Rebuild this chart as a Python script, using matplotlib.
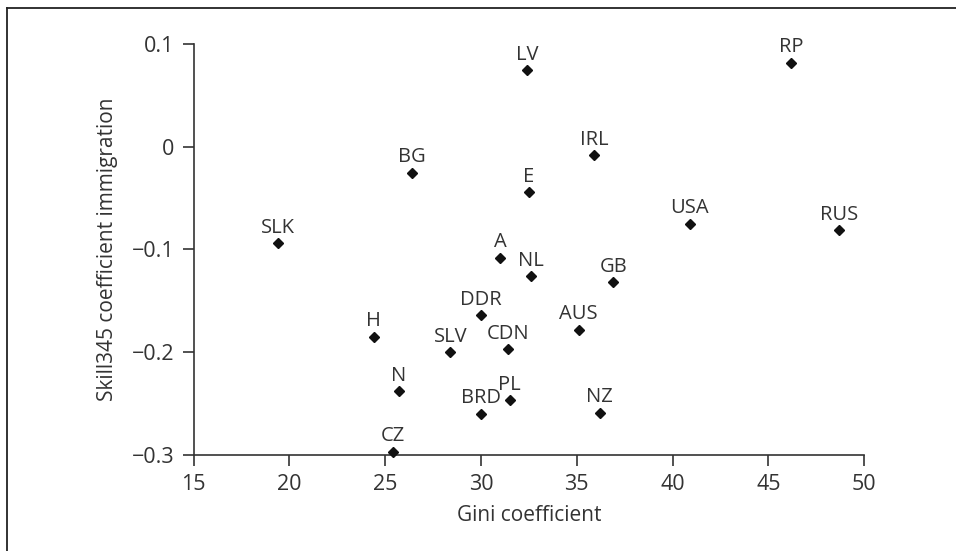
import matplotlib
matplotlib.use("Agg")
import matplotlib.pyplot as plt
from matplotlib.lines import Line2D

plt.rcParams['font.family'] = ['Open Sans', 'DejaVu Sans']

# Countries: Gini coefficient vs Skill345 coefficient of immigration
countries = ["LV", "RP", "BG", "IRL", "E", "SLK", "USA", "RUS", "A", "NL",
             "GB", "DDR", "AUS", "H", "SLV", "CDN", "N", "PL", "BRD", "NZ", "CZ"]
gini = [32.4, 46.2, 26.4, 35.9, 32.5, 19.4, 40.9, 48.7, 31.0, 32.6,
        36.9, 30.0, 35.1, 24.4, 28.4, 31.4, 25.7, 31.5, 30.0, 36.2, 25.4]
skill345 = [0.075, 0.082, -0.025, -0.008, -0.044, -0.094, -0.075, -0.081, -0.108, -0.126,
            -0.132, -0.164, -0.178, -0.185, -0.200, -0.197, -0.238, -0.247, -0.260, -0.259, -0.297]

xticks = [15, 20, 25, 30, 35, 40, 45, 50]
yticks = [-0.3, -0.2, -0.1, 0, 0.1]
ytick_labels = ["\u22120.3", "\u22120.2", "\u22120.1", "0", "0.1"]

fig = plt.figure(figsize=(9.56, 5.51), dpi=100)
ax = fig.add_axes([0.2026, 0.1748, 0.7012, 0.7448])

ax.plot(gini, skill345, linestyle="none", marker="D", markersize=5.2,
        color="#111111", clip_on=False, zorder=3)
for name, x, y in zip(countries, gini, skill345):
    ax.annotate(name, (x, y), xytext=(0, 7.5), textcoords="offset points",
                ha="center", va="baseline", fontsize=14.5, color="#333333")

ax.set_xlim(15, 50)
ax.set_ylim(-0.3, 0.1)
ax.set_xticks(xticks)
ax.set_yticks(yticks)
ax.set_yticklabels(ytick_labels)

for side in ["top", "right"]:
    ax.spines[side].set_visible(False)
for side in ["left", "bottom"]:
    ax.spines[side].set_color("#333333")
    ax.spines[side].set_linewidth(1.2)
ax.tick_params(direction="out", length=8, width=1.2, color="#333333",
               labelsize=15.5, labelcolor="#333333", pad=6)

ax.set_xlabel("Gini coefficient", fontsize=15, color="#333333", labelpad=7)
ax.set_ylabel("Skill345 coefficient immigration", fontsize=15, color="#333333", labelpad=10)

# frame edges along top and left
fig.add_artist(Line2D([6.5 / 956, 1.0], [1 - 8.3 / 551, 1 - 8.3 / 551],
                      transform=fig.transFigure, color="#222222", linewidth=1.3))
fig.add_artist(Line2D([6.5 / 956, 6.5 / 956], [0.0, 1 - 8.3 / 551],
                      transform=fig.transFigure, color="#222222", linewidth=1.3))

fig.savefig("out.png", dpi=100)
